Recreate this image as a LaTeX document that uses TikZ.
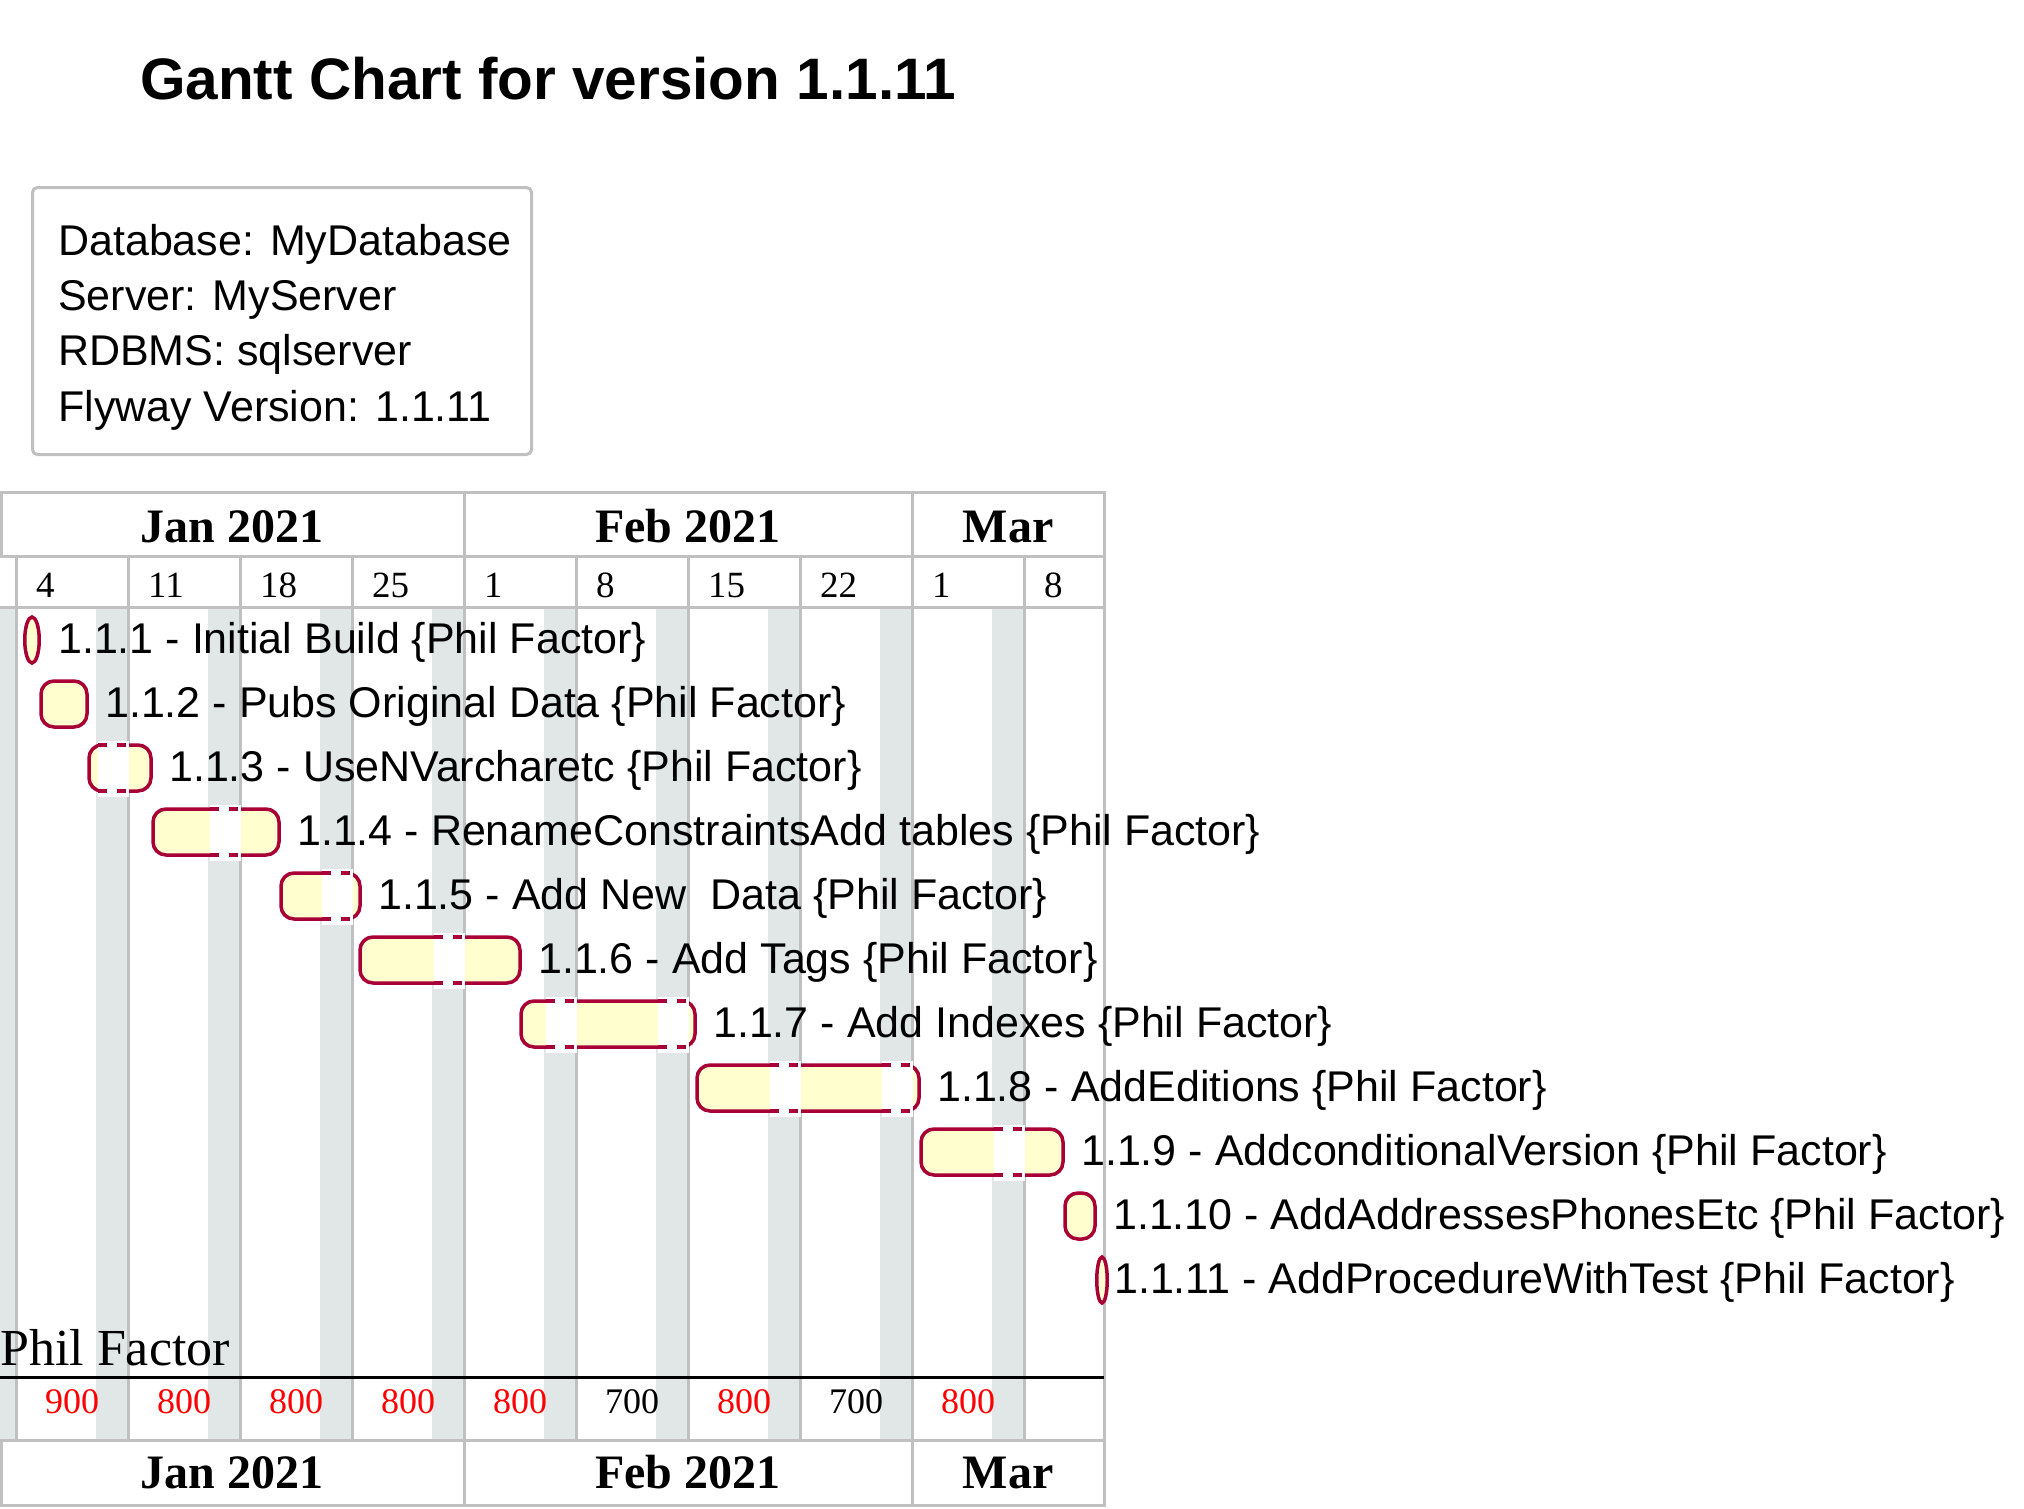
\documentclass[tikz,border=0pt]{standalone}
\usepackage{fontspec}
\setmainfont{Liberation Serif}
\newfontfamily\ganttsans{Liberation Sans}
\definecolor{taskfill}{HTML}{FEFECE}
\definecolor{taskline}{HTML}{A80036}
\definecolor{offday}{HTML}{E0E7E6}
\definecolor{gridgray}{HTML}{C0C0C0}
\begin{document}
\begin{tikzpicture}[x=1pt,y=-1pt,
    grid/.style={draw=gridgray,line width=3pt},
    task/.style={draw=taskline,fill=taskfill,line width=3.5pt,rounded corners=13pt},
    gapline/.style={draw=taskline,line width=3.5pt,dash pattern=on 9pt off 10pt},
    tasklabel/.style={anchor=base west,inner sep=0pt,font=\ganttsans\fontsize{43}{43}\selectfont},
    month/.style={anchor=base,inner sep=0pt,font=\bfseries\fontsize{48}{48}\selectfont},
    daynum/.style={anchor=base west,inner sep=0pt,font=\fontsize{37}{37}\selectfont},
    hours/.style={anchor=base,inner sep=0pt,font=\fontsize{36}{36}\selectfont}]
    \useasboundingbox[fill=white] (0,0) rectangle (2024,1508);
    \node[anchor=base west,inner sep=0pt,font=\ganttsans\bfseries\fontsize{58.5}{58.5}\selectfont] (title) at (140,99) {Gantt Chart for version 1.1.11};
    % info box
    \draw[grid,rounded corners=5pt] (32.5,187.5) rectangle (531.5,454.5);
    \foreach \l [count=\i] in {Database: MyDatabase, Server: MyServer, RDBMS: sqlserver, Flyway Version: 1.1.11}
        \node[tasklabel] (info\i) at (58,{255+55.4*(\i-1)}) {\l};
    % closed days
    \fill[offday] (0,607) rectangle (16,1440);
    \foreach \k in {0,...,8}
        \fill[offday] ({96+112*\k},607) rectangle ({128+112*\k},1440);
    % grid
    \foreach \k in {0,...,9}
        \draw[grid] ({16+112*\k},556) -- ({16+112*\k},1440);
    \draw[grid] (1.5,492) rectangle (1104,556);
    \draw[grid] (1.5,1440) rectangle (1104,1505);
    \draw[grid] (464,492) -- (464,556) (912,492) -- (912,556);
    \draw[grid] (464,1440) -- (464,1505) (912,1440) -- (912,1505);
    \draw[grid] (0,607) -- (1104,607);
    \draw[grid] (1104,556) -- (1104,1440);
    \draw[line width=3pt] (0,1377) -- (1104,1377);
    % calendar
    \foreach \m/\c [count=\i] in {Jan 2021/232, Feb 2021/688, Mar/1008} {
        \node[month] (top\i) at (\c,542) {\m};
        \node[month] (bot\i) at (\c,1488) {\m};
    }
    \foreach \d [count=\k from 0] in {4,11,18,25,1,8,15,22,1,8}
        \node[daynum] (day\k) at ({36+112*\k},597) {\d};
    \foreach \h/\c [count=\k from 0] in {900/red,800/red,800/red,800/red,800/red,700/black,800/red,700/black,800/red}
        \node[hours,text=\c] (hrs\k) at ({72+112*\k},1413) {\h};
    \node[anchor=base west,inner sep=0pt,font=\fontsize{52}{52}\selectfont] (owner) at (0,1365) {Phil Factor};
    % tasks
    \draw[task] (32,640) ellipse [x radius=7.25, y radius=23];
    \draw[task] (1102,1280) ellipse [x radius=5.25, y radius=23];
    \foreach \xa/\xb/\r in {41/87/2, 89/151/3, 153/279/4, 281/360/5, 360/520/6, 521/695/7, 697/919/8, 921/1063/9, 1065/1095/10}
        \draw[task] (\xa,{640+64*(\r-1)-23}) rectangle (\xb,{640+64*(\r-1)+23});
    \foreach \ws/\r in {96/3, 208/4, 320/5, 432/6, 544/7, 656/7, 768/8, 880/8, 992/9} {
        \fill[white] (\ws+2,{640+64*(\r-1)-27}) rectangle (\ws+33,{640+64*(\r-1)+29});
        \draw[gapline] (\ws+2,{640+64*(\r-1)-23}) -- (\ws+33,{640+64*(\r-1)-23})
            (\ws+2,{640+64*(\r-1)+23}) -- (\ws+33,{640+64*(\r-1)+23});
    }
    \foreach \x/\t [count=\r] in {58/1.1.1 - Initial Build, 105/1.1.2 - Pubs Original Data, 169/1.1.3 - UseNVarcharetc,
        297/1.1.4 - RenameConstraintsAdd tables, 378/1.1.5 - Add New\ \ Data, 538/1.1.6 - Add Tags,
        713/1.1.7 - Add Indexes, 937/1.1.8 - AddEditions, 1081/1.1.9 - AddconditionalVersion,
        1113/1.1.10 - AddAddressesPhonesEtc, 1114/1.1.11 - AddProcedureWithTest}
        \node[tasklabel] (task\r) at (\x,{640+64*(\r-1)+13}) {\t\ \{Phil Factor\}};
\end{tikzpicture}
\end{document}
